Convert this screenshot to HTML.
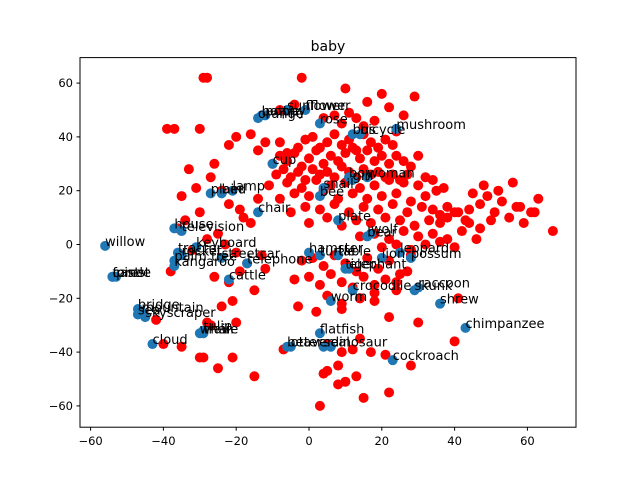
<!DOCTYPE html>
<html><head><meta charset="utf-8"><style>
body{margin:0;background:#fff}
svg text{font-family:"DejaVu Sans","Liberation Sans",sans-serif}
</style></head><body>
<svg id="chart" width="640" height="480" xmlns="http://www.w3.org/2000/svg">
<rect width="640" height="480" fill="#fff"/>
<text x="328" y="51" font-size="14" text-anchor="middle">baby</text>
<g id="red"></g><g id="blue"></g><g id="labels"></g>
<rect x="80" y="57.6" width="496" height="369.6" fill="none" stroke="#000" stroke-width="1"/>
<g id="axes"></g>
</svg>
<script>
const xTicks=[-60,-40,-20,0,20,40,60];
const yTicks=[-60,-40,-20,0,20,40,60];
const blueLabels=["willow","house","television","tractor","rocket","keyboard","palm_tree","streetcar","telephone","kangaroo","castle","forest","pine","cattle","bridge","mountain","sea","skyscraper","whale","train","tulip","cloud","chair","plain","bed","lamp","cup","bottle","orange","poppy","sunflower","flower","rose","bus","bicycle","mushroom","boy","girl","woman","snail","bee","plate","bear","wolf","hamster","turtle","table","lion","leopard","possum","tiger","elephant","crocodile","worm","raccoon","skunk","shrew","chimpanzee","flatfish","beaver","otter","seal","dinosaur","cockroach"];
const blueX=[-56,-37,-35,-36,-35,-31,-37,-24,-17,-37,-54,-54,-53,-22,-47,-46,-47,-45,-30,-29,-29,-43,-14,-27,-24,-21,-10,-13,-14,-12,-6,-1,3,12,14,24,11,12,16,4,3,8,16,17,0,3,8,20,25,28,10,11,12,6,30,29,36,43,3,-6,-5,4,6,23];
const blueY=[-0.5,6,5,-3,-4,-1,-6,-5,-7,-8,-12,-12,-12,-13,-24,-25,-26,-27,-33,-33,-32,-37,12,19,19,20,30,48,47,48,50,50,45,41,41,43,25,24,25,21,18,9,3,4,-3,-4,-4,-5,-3,-5,-9,-9,-17,-21,-16,-17,-22,-31,-33,-38,-38,-38,-38,-43];
const blueText=["willow","house","television","tractor","rocket","keyboard","palm_tree","streetcar","telephone","kangaroo","castle","forest","pine","cattle","bridge","mountain","sea","skyscraper","whale","train","tulip","cloud","chair","plain","bed","lamp","cup","bottle","orange","poppy","sunflower","flower","rose","bus","bicycle","mushroom","boy","girl","woman","snail","bee","plate","bear","wolf","hamster","turtle","table","lion","leopard","possum","tiger","elephant","crocodile","worm","raccoon","skunk","shrew","chimpanzee","flatfish","beaver","otter","seal","dinosaur","cockroach"];
const redX=[
-29,-28,-2,10,20,16,7,11,-4,-8,4,9,13,15,18,26,22,29,
-37,-39,-30,-22,-16,-20,-12,-14,-8,-6,-3,-1,1,3,5,7,9,11,13,15,17,19,21,23,24,
-10,-8,-6,-4,-2,0,2,4,6,8,10,12,14,16,18,20,22,24,26,28,30,
-9,-7,-5,-3,-1,1,3,5,7,9,11,13,15,17,19,21,23,25,27,
-11,-6,-2,2,6,10,14,18,22,26,30,32,34,
-8,-4,0,4,8,12,16,20,24,28,32,35,37,
-5,-1,3,7,11,15,19,23,27,31,34,36,38,40,
0,5,9,13,17,21,25,29,33,36,38,41,43,
14,18,22,26,30,34,38,42,44,47,
20,24,28,32,36,40,46,
45,47,49,51,53,55,57,59,61,63,67,48,52,56,44,50,58,62,
-33,-31,-35,-27,-24,-26,-22,-19,-16,-14,-30,-34,-36,-28,-25,-20,-17,-13,-18,-23,-32,-38,
-26,-22,-19,-15,-12,-21,-24,
-2,1,4,7,10,13,16,19,22,25,28,-4,0,3,6,9,12,15,18,21,24,27,5,9,14,18,24,
-3,2,9,14,18,22,30,41,
-20,-27,-28,-42,-7,5,9,12,14,17,21,28,40,-15,-35,-30,-29,-25,-21,4,8,13,22,5,8,10,3,15,-40
];
const redY=[
62,62,62,58,56,53,48,49,52,50,47,45,47,44,46,48,51,55,
43,43,43,37,41,40,38,35,38,34,36,39,40,36,38,41,37,39,35,41,38,36,39,37,42,
30,33,31,34,29,32,35,30,33,31,34,36,32,35,31,33,30,33,31,29,33,
26,28,25,27,24,28,26,27,25,29,27,25,28,26,27,25,26,24,26,
22,23,21,24,22,23,21,22,24,23,22,25,24,
17,19,18,20,17,19,17,18,19,16,18,20,21,
12,14,13,15,12,14,13,15,12,14,13,11,14,12,
8,10,7,9,8,10,9,7,9,8,10,12,9,
3,4,2,5,3,4,2,5,8,6,
-1,0,-2,0,1,-1,2,
19,15,18,12,16,10,14,8,12,17,5,22,20,23,13,9,14,12,
28,21,18,25,20,30,15,13,8,17,12,9,6,2,4,-3,-7,-4,10,0,-2,-10,
-12,-14,-10,-17,-9,-21,-23,
-6,-5,-8,-4,-7,-10,-5,-9,-6,-11,-4,-13,-12,-15,-11,-14,-16,-12,-15,-13,-17,-10,-19,-22,-20,-18,-14,
-23,-25,-24,-20,-21,-27,-29,-20,
-29,-30,-29,-28,-39,-37,-40,-39,-35,-40,-41,-45,-36,-49,-38,-42,-42,-46,-42,-48,-52,-49,-55,-47,-45,-51,-60,-57,-37
];
const X=v=>309+v*3.64, Y=v=>244.5-v*2.69;
const NS="http://www.w3.org/2000/svg";
const gr=document.getElementById('red'),gb=document.getElementById('blue'),gl=document.getElementById('labels'),ga=document.getElementById('axes');
function mk(t,a){const e=document.createElementNS(NS,t);for(const k in a)e.setAttribute(k,a[k]);return e;}
for(let i=0;i<blueX.length;i++){
 const c=mk('circle',{cx:X(blueX[i]),cy:Y(blueY[i]),r:5,fill:'#1f77b4'});
 
 
 gb.appendChild(c);
 const t=mk('text',{x:X(blueX[i]),y:Y(blueY[i]),'font-size':13});
 
 
 t.textContent=blueText[i].replace('_',' ');
 gl.appendChild(t);
}
for(let i=0;i<Math.min(redX.length,redY.length);i++){
 const c=mk('circle',{cx:X(redX[i]),cy:Y(redY[i]),r:5,fill:'#ff0000'});
 
 
 gr.appendChild(c);
}
xTicks.forEach(v=>{
 const l=mk('line',{x1:X(v),x2:X(v),y1:427.2,y2:430.7,stroke:'#000'});
 
 
 ga.appendChild(l);
 const t=mk('text',{x:X(v),y:445,'font-size':11.5,'text-anchor':'middle'});
 
 
 t.textContent=v<0?'\u2212'+(-v):v;ga.appendChild(t);
});
yTicks.forEach(v=>{
 const l=mk('line',{x1:76.5,x2:80,y1:Y(v),y2:Y(v),stroke:'#000'});
 
 
 ga.appendChild(l);
 const t=mk('text',{x:73,y:Y(v)+4,'font-size':11.5,'text-anchor':'end'});
 
 
 t.textContent=v<0?'\u2212'+(-v):v;ga.appendChild(t);
});
</script>
</body></html>
